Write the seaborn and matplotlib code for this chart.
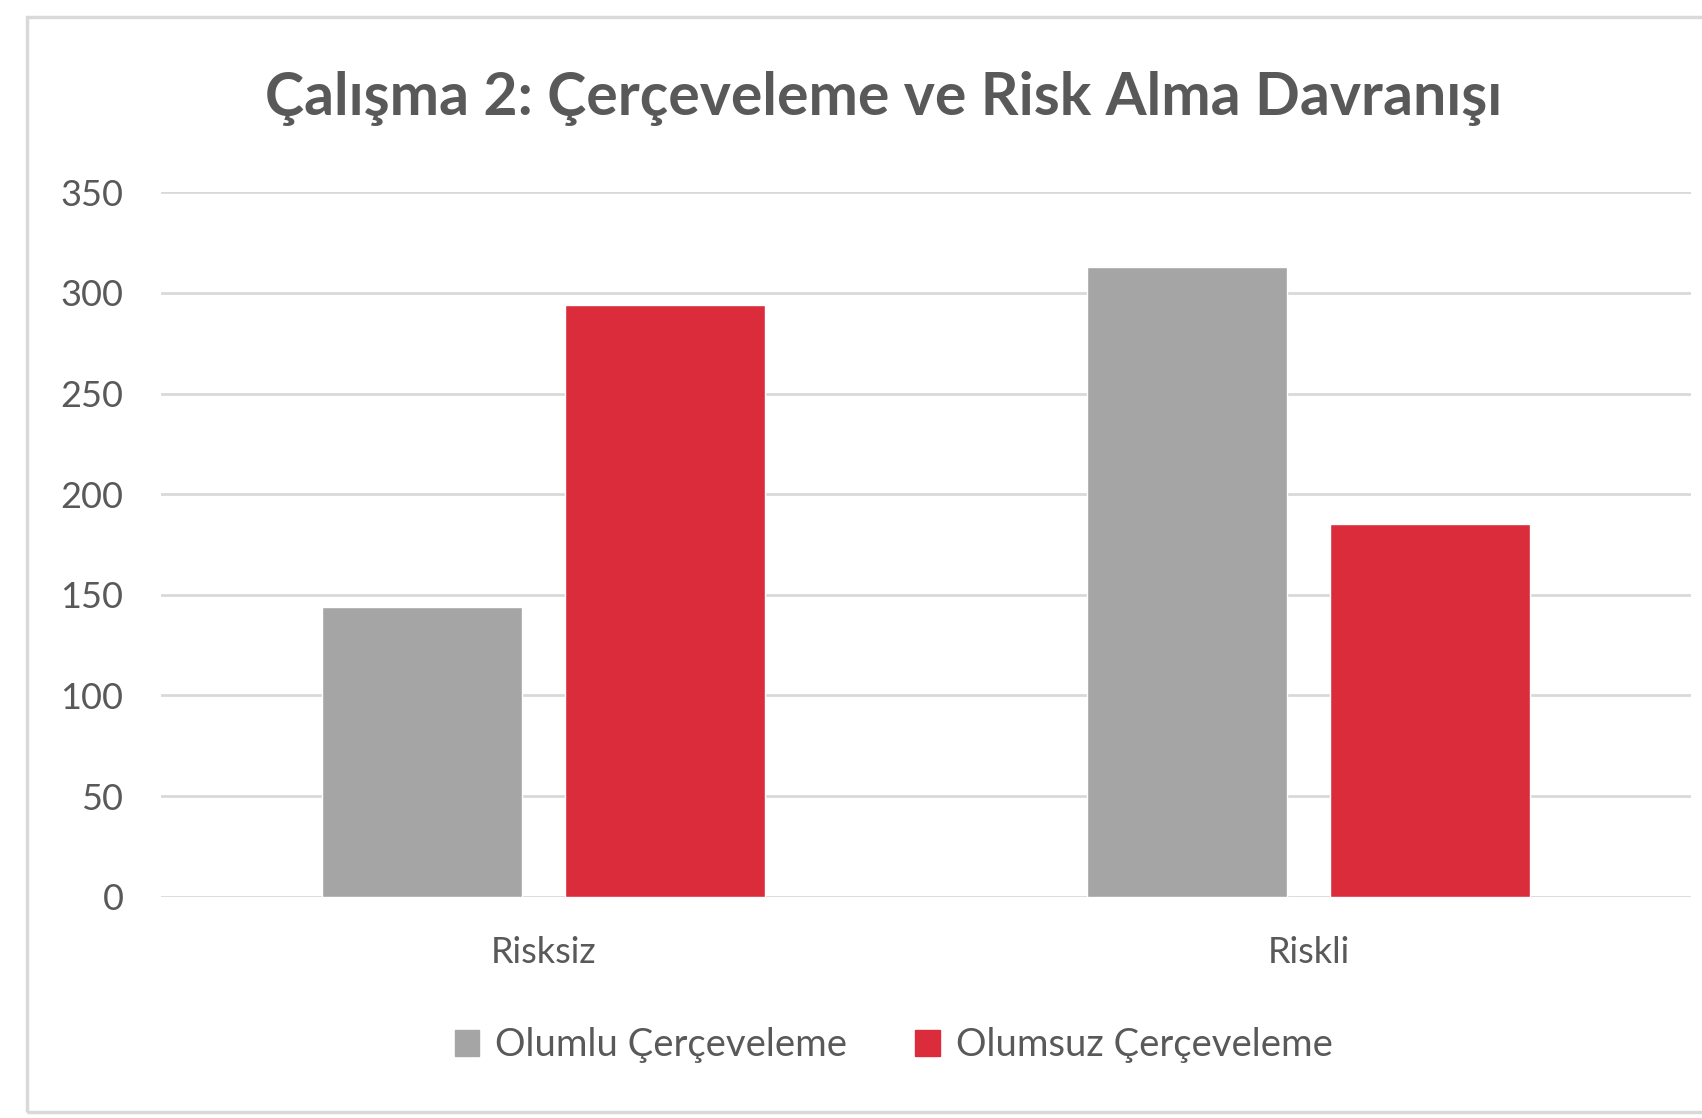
import numpy as np
import pandas as pd
import matplotlib.pyplot as plt
import matplotlib.patches as mpatches
import seaborn as sns

# veriler
kategoriler = ["Risksiz", "Riskli"]
olumlu = [144, 313]
olumsuz = [294, 185]
seriler = ["Olumlu Çerçeveleme", "Olumsuz Çerçeveleme"]
yticks = [0, 50, 100, 150, 200, 250, 300, 350]

df = pd.DataFrame({
    "kategori": kategoriler * 2,
    "deger": olumlu + olumsuz,
    "seri": [seriler[0]] * 2 + [seriler[1]] * 2,
})

sns.set_style("white")
plt.rcParams["font.family"] = ["Lato", "DejaVu Sans"]
txt = "#595959"
renkler = ["#A5A5A5", "#DA2C3A"]

fig = plt.figure(figsize=(17.02, 11.18), dpi=100)
ax = fig.add_axes([0.0946, 0.198, 0.899, 0.630])

sns.barplot(data=df, x="kategori", y="deger", hue="seri",
            palette=renkler, width=0.635, gap=0.174,
            saturation=1, legend=False, ax=ax)

ax.set_xlim(-0.5, 1.5)
ax.set_ylim(0, 350)
ax.set_yticks(yticks)
ax.yaxis.grid(True, color="#D9D9D9", linewidth=2)
ax.set_axisbelow(True)
for s in ax.spines.values():
    s.set_visible(False)
ax.set_xlabel("")
ax.set_ylabel("")
ax.tick_params(axis="y", length=0, pad=27, labelsize=26, labelcolor=txt)
ax.tick_params(axis="x", length=0, pad=28, labelsize=26, labelcolor=txt)

fig.text(0.519, 0.912, "Çalışma 2: Çerçeveleme ve Risk Alma Davranışı",
         ha="center", va="center", fontsize=42.5, fontweight="bold", color=txt)

handles = [mpatches.Patch(color=c, label=l) for c, l in zip(renkler, seriler)]
fig.legend(handles=handles, loc="center", bbox_to_anchor=(0.525, 0.065), ncol=2,
           frameon=False, fontsize=27.5, labelcolor=txt, handlelength=0.65,
           handleheight=0.65, handletextpad=0.4, columnspacing=1.8)

# dış çerçeve
fig.patches.append(mpatches.Rectangle((27 / 1702, 1 - 1112 / 1118), 1.0, (1112 - 17) / 1118,
                                      transform=fig.transFigure, fill=False,
                                      edgecolor="#D9D9D9", linewidth=2.5))

plt.savefig("out.png", dpi=100)
